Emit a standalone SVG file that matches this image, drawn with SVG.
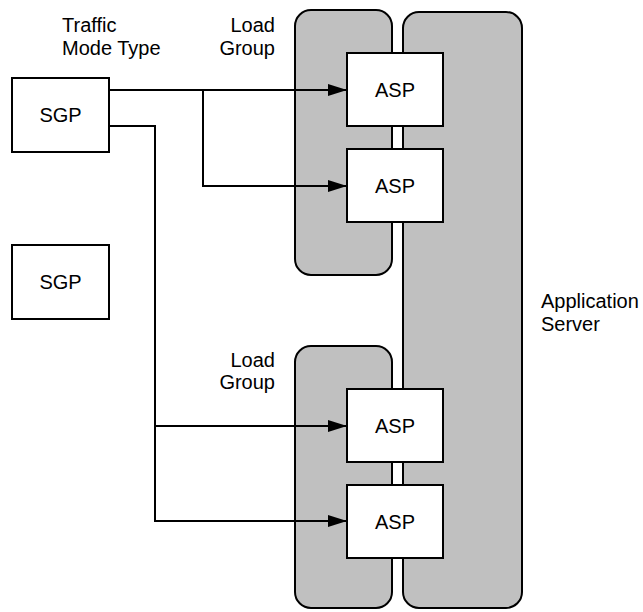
<svg xmlns="http://www.w3.org/2000/svg" width="643" height="612" viewBox="0 0 643 612">
<defs>
<style>
.grp{fill:#c0c0c0;stroke:#000;stroke-width:2}
.box{fill:#fff;stroke:#000;stroke-width:2}
.ln{fill:none;stroke:#000;stroke-width:2}
text{font-family:"Liberation Sans",Arial,sans-serif;font-size:20px;fill:#000}
.c{text-anchor:middle}
.r{text-anchor:end}
</style>
<marker id="ah" viewBox="0 0 19 12" refX="19" refY="6" markerWidth="19" markerHeight="12" markerUnits="userSpaceOnUse" orient="auto">
<path d="M0,0 L19,6 L0,12 Z" fill="#000"/>
</marker>
</defs>
<rect width="643" height="612" fill="#fff"/>
<g id="app-server">
<rect class="grp" x="403" y="12" width="119" height="596" rx="16"/>
<text x="541" y="308">Application</text>
<text x="541" y="331">Server</text>
</g>
<g id="load-group-1">
<rect class="grp" x="295" y="10" width="97" height="265" rx="16"/>
<text class="r" x="275" y="32">Load</text>
<text class="r" x="275" y="55">Group</text>
</g>
<g id="load-group-2">
<rect class="grp" x="295" y="346" width="97" height="262" rx="16"/>
<text class="r" x="275" y="367">Load</text>
<text class="r" x="275" y="389">Group</text>
</g>
<g id="traffic-label">
<text x="62" y="32">Traffic</text>
<text x="62" y="55">Mode Type</text>
</g>
<g id="connectors">
<path class="ln" d="M109,90 H347" marker-end="url(#ah)"/>
<path class="ln" d="M203,90 V186 H347" marker-end="url(#ah)"/>
<path class="ln" d="M109,126 H155 V521 H347" marker-end="url(#ah)"/>
<path class="ln" d="M155,426 H347" marker-end="url(#ah)"/>
</g>
<g id="sgp-1">
<rect class="box" x="12" y="78" width="97" height="74"/>
<text class="c" x="60.5" y="122">SGP</text>
</g>
<g id="sgp-2">
<rect class="box" x="12" y="245" width="97" height="74"/>
<text class="c" x="60.5" y="289">SGP</text>
</g>
<g id="asp-1">
<rect class="box" x="347" y="53" width="96" height="73"/>
<text class="c" x="395" y="97">ASP</text>
</g>
<g id="asp-2">
<rect class="box" x="347" y="149" width="96" height="73"/>
<text class="c" x="395" y="193">ASP</text>
</g>
<g id="asp-3">
<rect class="box" x="347" y="389" width="96" height="73"/>
<text class="c" x="395" y="433">ASP</text>
</g>
<g id="asp-4">
<rect class="box" x="347" y="485" width="96" height="73"/>
<text class="c" x="395" y="529">ASP</text>
</g>
</svg>
